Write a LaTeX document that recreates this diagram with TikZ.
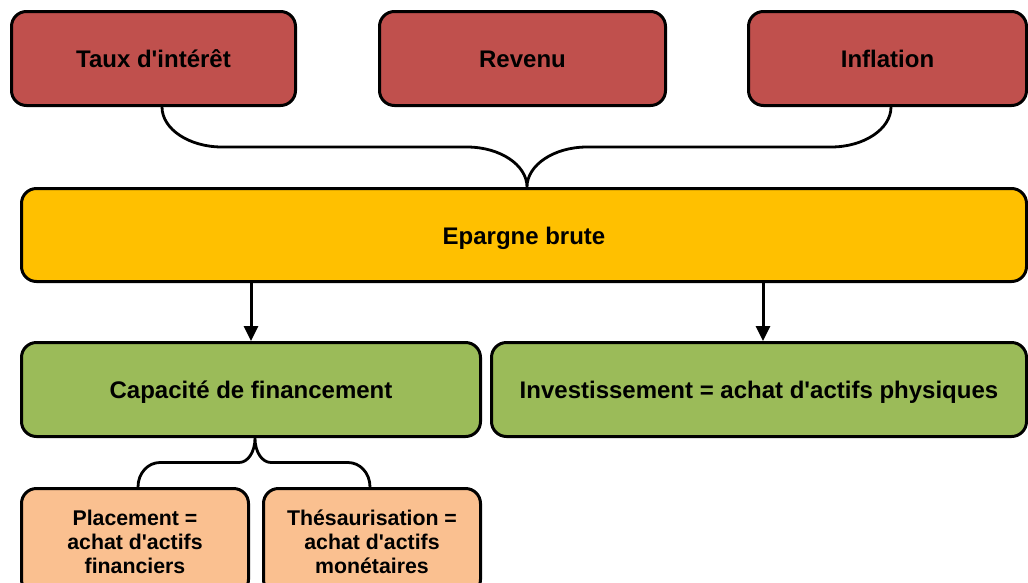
\documentclass[tikz,border=0pt]{standalone}
\usepackage{fontspec}
\setmainfont{Liberation Sans}
\usetikzlibrary{arrows.meta, calc}
\definecolor{offRouge}{HTML}{C0504D}
\definecolor{offJaune}{HTML}{FFC000}
\definecolor{offVert}{HTML}{9BBB59}
\definecolor{offOrange}{HTML}{FAC090}

\begin{document}
\begin{tikzpicture}[x=1pt, y=-1pt,
    boite/.style={rectangle, rounded corners=15pt, draw=black, line width=3pt,
                  font=\fontsize{24}{29}\selectfont\bfseries, align=center, inner sep=0pt,
                  text height=18pt, text depth=0pt},
    petite/.style={boite, font=\fontsize{21.3}{24}\selectfont\bfseries,
                   text height={}, text depth={}},
    accolade/.style={line width=2.8pt, line join=round},
    fleche/.style={line width=3pt, -{Triangle[length=15pt, width=14pt]}},
  ]
    \useasboundingbox (0,0) rectangle (1028,582);

    % Facteurs
    \node[boite, fill=offRouge, minimum width=284pt, minimum height=94pt] (taux) at (153.5, 58.5) {Taux d\textquotesingle intérêt};
    \node[boite, fill=offRouge, minimum width=286pt, minimum height=94pt] (revenu) at (522.5, 58.5) {Revenu};
    \node[boite, fill=offRouge, minimum width=278pt, minimum height=94pt] (inflation) at (887.5, 58.5) {Inflation};

    % Epargne
    \node[boite, fill=offJaune, minimum width=1005pt, minimum height=93pt] (epargne) at (524, 235) {Epargne brute};

    % Emplois de l'epargne
    \node[boite, fill=offVert, minimum width=459pt, minimum height=94pt] (capa) at (251, 389.5) {Capacité de financement};
    \node[boite, fill=offVert, minimum width=535pt, minimum height=94pt] (invest) at (759, 389.5) {Investissement = achat d\textquotesingle actifs physiques};

    % Placement / thesaurisation
    \node[petite, fill=offOrange, minimum width=227pt, minimum height=106pt] (placement) at (135, 541.5) {Placement =\\achat d\textquotesingle actifs\\financiers};
    \node[petite, fill=offOrange, minimum width=217pt, minimum height=106pt] (thesau) at (372, 541.5) {Thésaurisation =\\achat d\textquotesingle actifs\\monétaires};

    % Accolade du haut
    \coordinate (aG) at ($(taux.south)+(8.5,0)$);
    \coordinate (aD) at ($(inflation.south)+(3.5,0)$);
    \coordinate (pointe) at ($(epargne.north)+(3,0)$);
    \coordinate (mi) at ($(taux.south)!0.5!(epargne.north)$);
    \draw[accolade] (aG) .. controls +(0,22) and +(-33,0) .. ($(aG |- mi)+(60,0)$)
      -- ($(pointe |- mi)+(-60,0)$) .. controls +(33,0) and +(0,-22) .. (pointe)
      .. controls +(0,-22) and +(-33,0) .. ($(pointe |- mi)+(60,0)$)
      -- ($(aD |- mi)+(-60,0)$) .. controls +(33,0) and +(0,22) .. (aD);

    % Fleches
    \draw[fleche] (epargne.south -| capa) -- (capa.north);
    \draw[fleche] ($(epargne.south -| invest)+(4,0)$) -- ($(invest.north)+(4,0)$);

    % Accolade du bas
    \coordinate (bG) at ($(placement.north)+(3,0)$);
    \coordinate (bD) at ($(thesau.north)+(-2,0)$);
    \coordinate (pointeB) at ($(capa.south)+(4,0)$);
    \coordinate (miB) at ($(capa.south)!0.5!(placement.north)$);
    \draw[accolade] (bG) .. controls +(0,-14) and +(-12,0) .. ($(bG |- miB)+(22,0)$)
      -- ($(pointeB |- miB)+(-16,0)$) .. controls +(9,0) and +(0,14) .. (pointeB)
      .. controls +(0,14) and +(-9,0) .. ($(pointeB |- miB)+(16,0)$)
      -- ($(bD |- miB)+(-22,0)$) .. controls +(12,0) and +(0,-14) .. (bD);
  \end{tikzpicture}
\end{document}
